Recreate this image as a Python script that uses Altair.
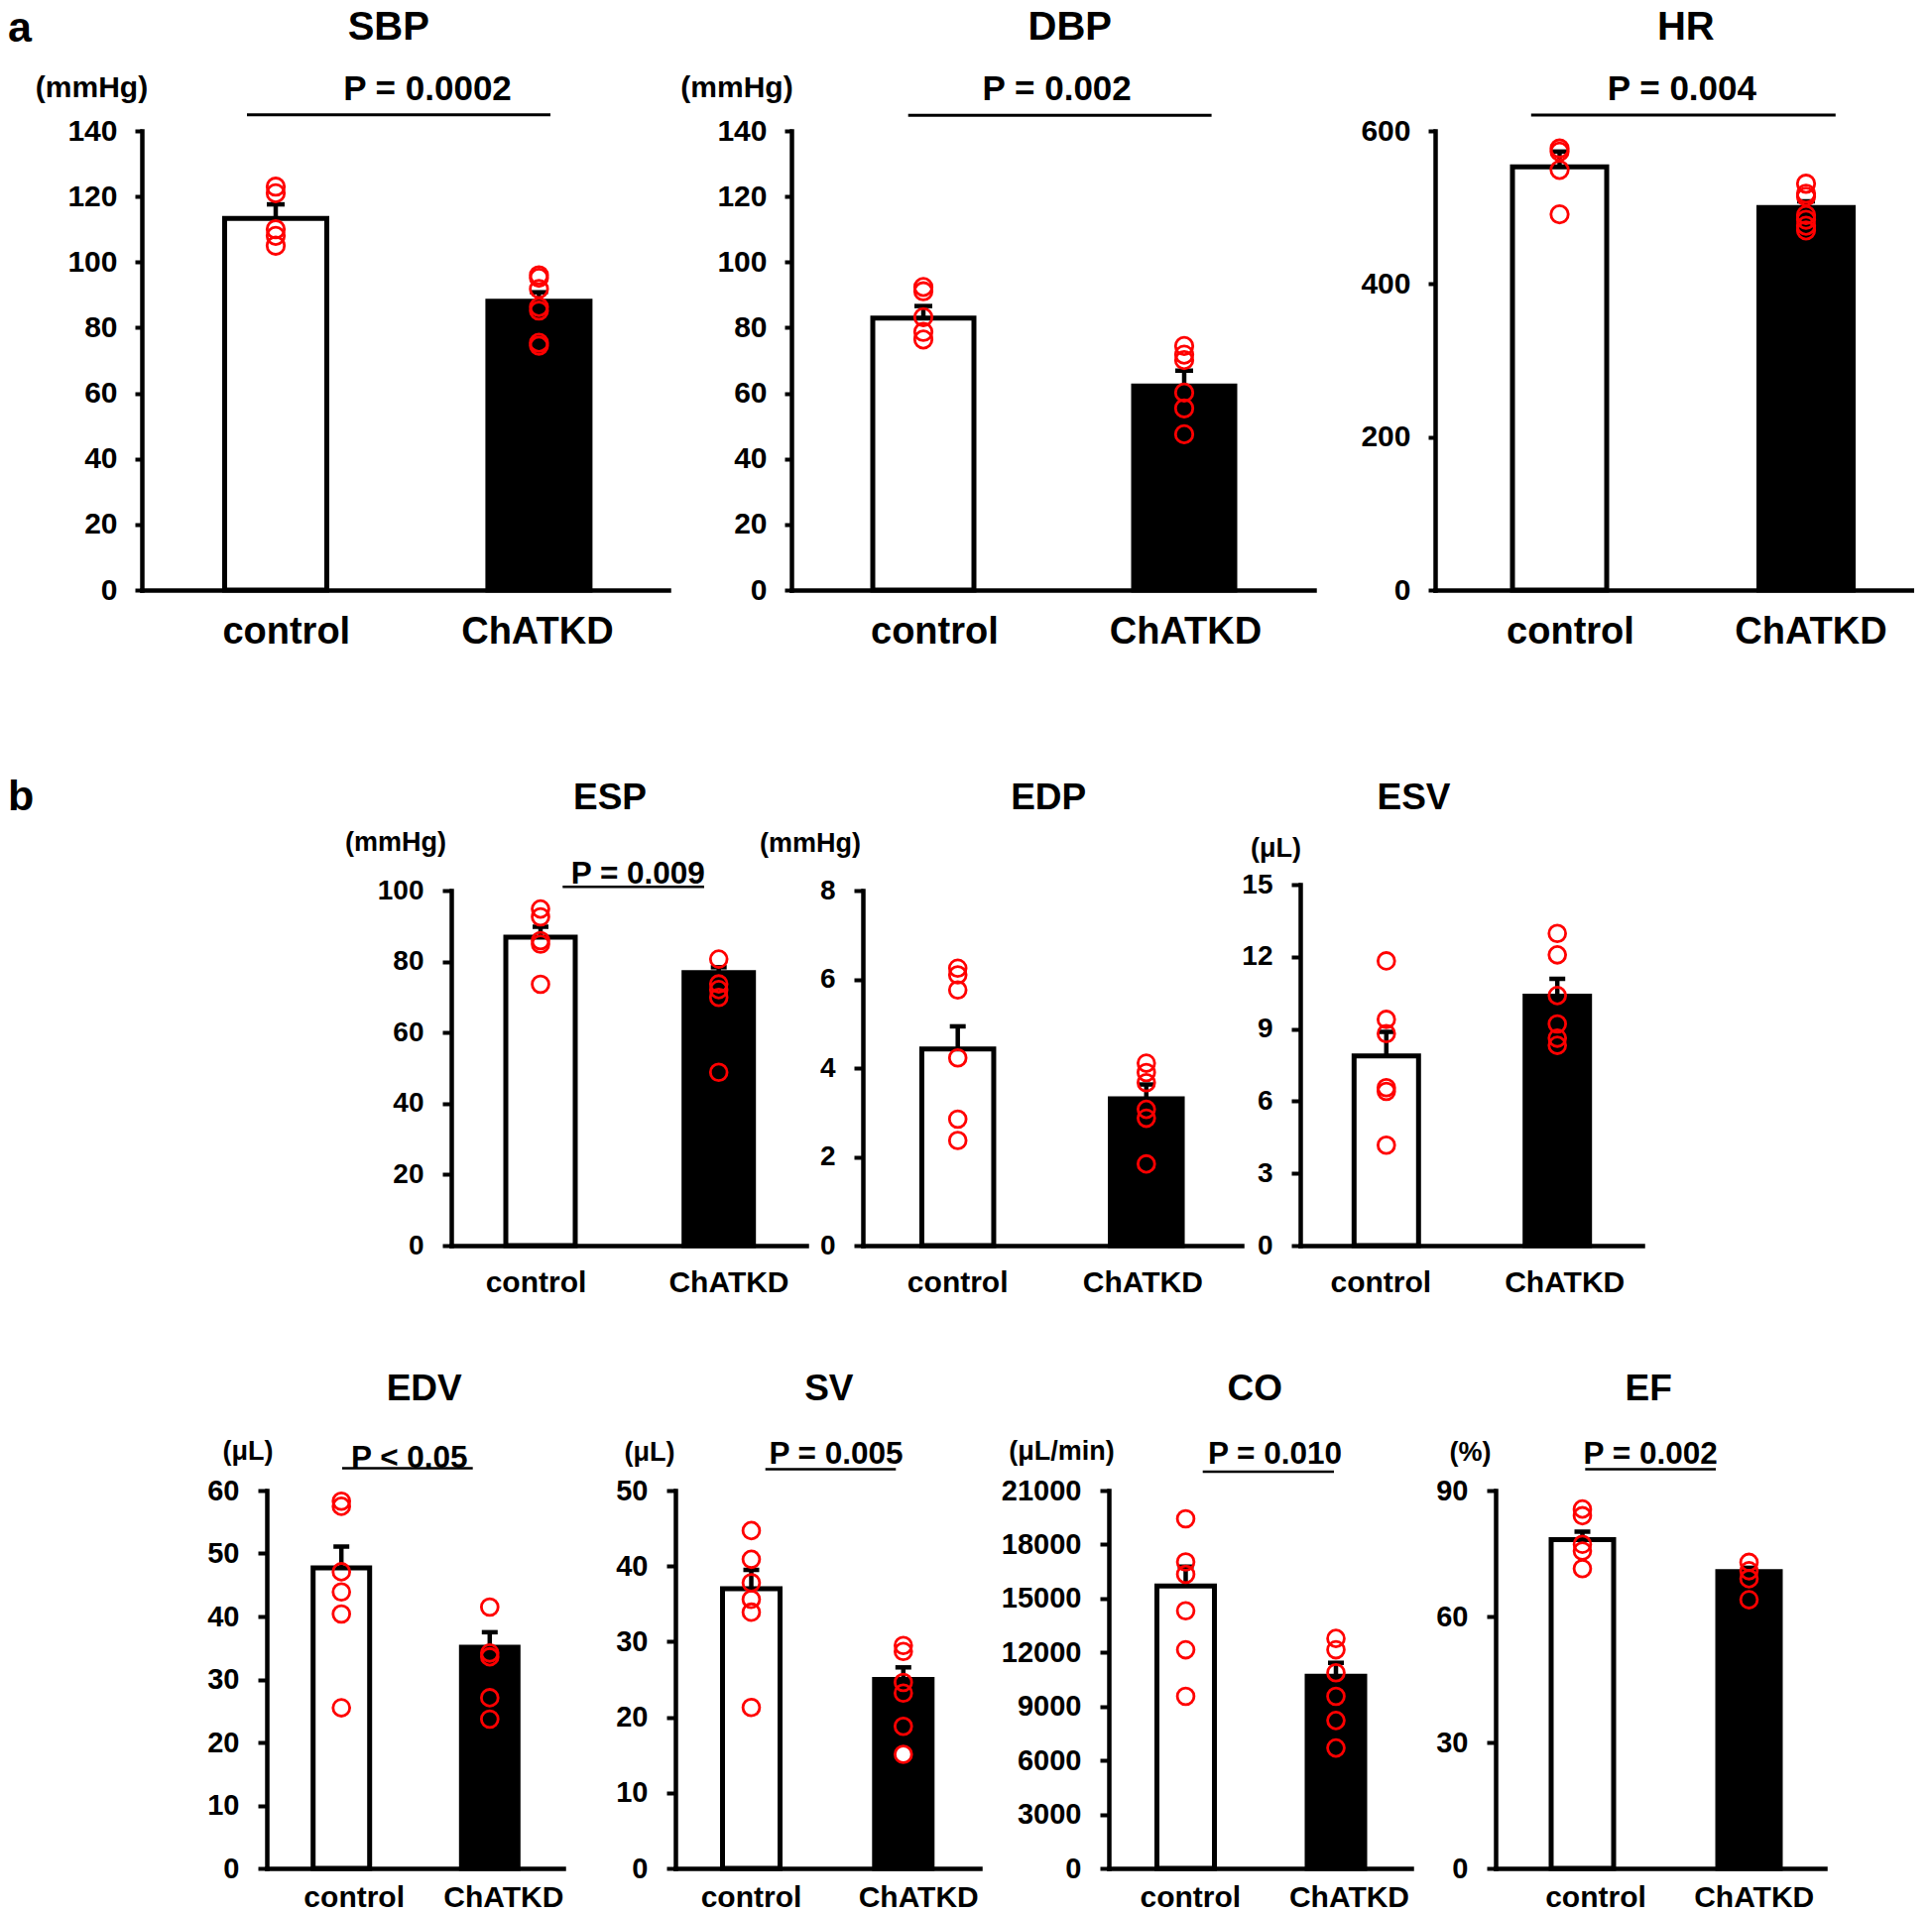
import altair as alt
import pandas as pd

GROUPS = ["control", "ChATKD"]
FONT = "Liberation Sans"
RED = "#ff0000"

# ---------------- data ----------------
SBP_MEAN = [113.3, 88.1]
SBP_SEM = [4.3, 2.7]
SBP_CTRL = [123.0, 121.0, 110.0, 108.0, 105.0]
SBP_KD = [96.0, 95.2, 91.8, 86.3, 85.2, 75.4, 74.5]

DBP_MEAN = [82.9, 62.2]
DBP_SEM = [3.7, 4.7]
DBP_CTRL = [92.4, 91.1, 83.2, 78.7, 76.4]
DBP_KD = [74.4, 71.8, 70.1, 60.2, 55.4, 47.5]

HR_MEAN = [553.0, 500.0]
HR_SEM = [20.0, 8.0]
HR_CTRL = [577.0, 573.0, 549.0, 491.0]
HR_KD = [531.0, 518.0, 514.0, 490.0, 484.0, 476.0, 470.0]

ESP_MEAN = [86.9, 76.9]
ESP_SEM = [2.9, 1.5]
ESP_CTRL = [94.8, 92.6, 85.9, 84.9, 73.6]
ESP_KD = [80.7, 73.7, 72.1, 69.9, 48.8]

EDP_MEAN = [4.43, 3.31]
EDP_SEM = [0.51, 0.32]
EDP_CTRL = [6.25, 6.10, 5.76, 4.23, 2.85, 2.37]
EDP_KD = [4.11, 3.90, 3.67, 3.07, 2.87, 1.84]

ESV_MEAN = [7.88, 10.36]
ESV_SEM = [1.00, 0.73]
ESV_CTRL = [11.83, 9.40, 8.81, 6.56, 6.41, 4.17]
ESV_KD = [12.97, 12.08, 10.39, 9.21, 8.62, 8.32]

EDV_MEAN = [47.7, 35.1]
EDV_SEM = [3.4, 2.4]
EDV_CTRL = [58.3, 57.5, 47.1, 43.9, 40.4, 25.5]
EDV_KD = [41.5, 34.2, 33.6, 27.1, 23.7]

SV_MEAN = [37.0, 25.0]
SV_SEM = [2.5, 1.6]
SV_CTRL = [44.7, 40.9, 37.8, 35.6, 33.9, 21.3]
SV_KD = [29.5, 28.7, 24.6, 23.2, 18.8, 15.1]
SV_KD_WHITE = [15.1]          # the one ChATKD circle drawn with a white fill

CO_MEAN = [15690, 10680]
CO_SEM = [1080, 745]
CO_CTRL = [19430, 17030, 16340, 14320, 12150, 9560]
CO_KD = [12780, 12150, 10870, 9560, 8220, 6690]

EF_MEAN = [78.3, 70.7]
EF_SEM = [1.9, 0.9]
EF_CTRL = [85.6, 84.0, 77.2, 75.6, 71.4]
EF_KD = [72.9, 70.9, 69.0, 64.0]

# ---------------- styles per row ----------------
ROW_A = dict(h=463, tick_fs=30, xlab_fs=38, xlab_pad=53, title_fs=40, p_fs=35,
             unit_fs=30, tick_size=7, lab_pad=18, pt_size=305, pt_sw=2.8, cap=18, pline_w=3)
ROW_B1 = dict(h=358, tick_fs=28, xlab_fs=30, xlab_pad=46, title_fs=37, p_fs=31.5,
              unit_fs=27, tick_size=9, lab_pad=19, pt_size=283, pt_sw=2.8, cap=16, pline_w=2.5)
ROW_B2 = dict(h=381, tick_fs=29, xlab_fs=30, xlab_pad=38.5, title_fs=37, p_fs=31.5,
              unit_fs=27, tick_size=9, lab_pad=19, pt_size=283, pt_sw=2.8, cap=16, pline_w=2.5)

BAR_SW = 5
USE_COND = True


def band_params(W, c1, step, vis, sw=BAR_SW):
    bw = vis - sw
    pi = 1 - bw / step
    left = c1 - bw / 2
    leftover = W - (step + bw)
    po = leftover / (2 * step)
    al = left / leftover
    return pi, po, al


def text_layer(text, x, y, size, align="center"):
    return alt.Chart(pd.DataFrame({"t": [text]})).mark_text(
        font=FONT, fontWeight="bold", fontSize=size, align=align,
        baseline="alphabetic", color="black"
    ).encode(text="t:N", x=alt.value(x), y=alt.value(y))


def hline(x1, x2, y, w):
    return alt.Chart(pd.DataFrame({"t": [0]})).mark_rule(
        color="black", strokeWidth=w
    ).encode(x=alt.value(x1), x2=alt.value(x2), y=alt.value(y))


def panel(title, unit, pval, mean, sem, ctrl, kd, ymax, ystep, L, S, extra=None,
          kd_white=None):
    summ = pd.DataFrame({"group": GROUPS, "v": mean,
                         "v2": [m + s for m, s in zip(mean, sem)]})
    pts = pd.DataFrame({"group": ["control"] * len(ctrl) + ["ChATKD"] * len(kd),
                        "v": list(ctrl) + list(kd)})
    pi, po, al = band_params(L["W"], L["c1"], L["step"], L["vis"])
    xscale = alt.Scale(domain=GROUPS, paddingInner=pi, paddingOuter=po, align=al)
    o1, o2 = L["loff"]
    if USE_COND:
        loff = {"condition": {"test": "datum.value === 'control'", "value": o1}, "value": o2}
    else:
        loff = (o1 + o2) / 2
    xaxis = alt.Axis(title=None, labelAngle=0, ticks=False, tickSize=0,
                     domainColor="black", domainWidth=4.5, domainCap="square",
                     labelFont=FONT, labelFontWeight="bold", labelFontSize=S["xlab_fs"],
                     labelColor="black", labelBaseline="alphabetic",
                     labelPadding=S["xlab_pad"], labelOverlap=False, labelOffset=loff)
    ticks = list(range(0, ymax + ystep, ystep))
    if L.get("ytop", 0) != 0:
        yscale = alt.Scale(domain=[0, ymax], nice=False, zero=True,
                           range=[S["h"], L["ytop"]])
    else:
        yscale = alt.Scale(domain=[0, ymax], nice=False, zero=True)
    yaxis = alt.Axis(title=None, values=ticks, format="d", grid=False,
                     domainColor="black", domainWidth=4.5, domainCap="square",
                     tickColor="black", tickWidth=4, tickSize=S["tick_size"],
                     labelFont=FONT, labelFontWeight="bold", labelFontSize=S["tick_fs"],
                     labelColor="black", labelPadding=S["lab_pad"], labelOverlap=False)
    X = alt.X("group:N", scale=xscale, axis=xaxis, sort=GROUPS)

    bars = alt.Chart(summ).mark_bar(stroke="black", strokeWidth=BAR_SW).encode(
        x=X,
        y=alt.Y("v:Q", scale=yscale, axis=yaxis),
        color=alt.Color("group:N", scale=alt.Scale(domain=GROUPS, range=["white", "black"]),
                        legend=None),
    )
    err = alt.Chart(summ).mark_rule(color="black", strokeWidth=4.5).encode(
        x=X, y=alt.Y("v:Q", scale=yscale, axis=yaxis), y2="v2:Q")
    cap = alt.Chart(summ).mark_tick(color="black", thickness=4.5, size=S["cap"],
                                    opacity=1).encode(
        x=X, y=alt.Y("v2:Q", scale=yscale, axis=yaxis))
    layers = [bars, err, cap]
    if kd_white:
        wdf = pd.DataFrame({"group": ["ChATKD"] * len(kd_white), "v": list(kd_white)})
        layers.append(alt.Chart(wdf).mark_point(shape="circle", filled=True, color="white",
                                                size=S["pt_size"], opacity=1).encode(
            x=X, y=alt.Y("v:Q", scale=yscale, axis=yaxis)))
    dots = alt.Chart(pts).mark_point(shape="circle", filled=False, color=RED,
                                     size=S["pt_size"], strokeWidth=S["pt_sw"],
                                     opacity=1).encode(
        x=X, y=alt.Y("v:Q", scale=yscale, axis=yaxis))
    layers += [dots, text_layer(title, L["tx"], L["ty"], S["title_fs"])]
    if unit:
        layers.append(text_layer(unit, L["ux"], L["uy"], S["unit_fs"]))
    if pval:
        layers.append(text_layer(pval, L["px"], L["py"], S["p_fs"]))
        layers.append(hline(L["lx1"], L["lx2"], L["ly"], S["pline_w"]))
    if extra:
        layers.extend(extra)
    return alt.layer(*layers).properties(width=L["W"], height=S["h"])


def spacer(w, h, frame=None):
    """Empty cell. `frame` = (x, ytop, ybottom) draws an invisible vertical rule
    that fixes the outer extent of the row for the vertical stacking."""
    base = alt.Chart(pd.DataFrame({"s": [0]})).mark_point(opacity=0, size=0).encode(
        x=alt.value(w / 2), y=alt.value(h / 2))
    if frame is None:
        return base.properties(width=w, height=h)
    fx, fy1, fy2 = frame
    rule = alt.Chart(pd.DataFrame({"s": [0]})).mark_rule(
        opacity=0, strokeWidth=1, color="white").encode(
        x=alt.value(fx), y=alt.value(fy1), y2=alt.value(fy2))
    return alt.layer(base, rule).properties(width=w, height=h)


# ---------------- layouts ----------------
L_SBP = dict(W=531, c1=135, step=265.4, vis=108, tx=248.8, ty=-92, ux=-50.5, uy=-34.4,
             px=288, py=-31.4, lx1=106, lx2=412, ly=-16.2, loff=(10.8, -1.5))
L_DBP = dict(W=527, c1=133, step=263, vis=107, tx=280.8, ty=-92, ux=-55, uy=-34.4,
             px=267.7, py=-31.4, lx1=117.7, lx2=423.6, ly=-15.8, loff=(11.4, 1.5))
L_HR = dict(W=483, c1=125.5, step=248.5, vis=100, tx=252.8, ty=-92,
            px=248.9, py=-31.4, lx1=96.8, lx2=403.8, ly=-16, loff=(11, 5))
L_ESP = dict(W=358, c1=90, step=179.7, vis=75, tx=160, ty=-81.6, ux=-56, uy=-40.5,
             px=188.3, py=-6.6, lx1=112.3, lx2=255, ly=-3.7, loff=(-4.5, 10.3))
L_EDP = dict(W=382, c1=95.7, step=190.1, vis=77.5, tx=187.2, ty=-81.6, ux=-53, uy=-38.7,
             loff=(0, -3.4))
L_ESV = dict(W=345, c1=86.8, step=172.4, vis=70, tx=114.5, ty=-81.6, ux=-24.5, uy=-34.4,
             ytop=-6, loff=(-5.5, 7.5))
L_EDV = dict(W=299, c1=75.2, step=149.6, vis=62, tx=158.7, ty=-91, ux=-19, uy=-31.4,
             px=143.8, py=-23.2, lx1=76, lx2=207.7, ly=-22.5, loff=(13, 14))
L_SV = dict(W=307, c1=76.5, step=153.3, vis=63, tx=154.8, ty=-91, ux=-26, uy=-29.6,
            px=162, py=-26.8, lx1=90.7, lx2=222.3, ly=-21.4, loff=(0, 15.4))
L_CO = dict(W=305, c1=77.5, step=151.5, vis=63, tx=147.3, ty=-91, ux=-47.5, uy=-31.4,
            px=167.5, py=-26.8, lx1=94.7, lx2=227, ly=-19, loff=(4.8, 13.5))
L_EF = dict(W=332, c1=87.5, step=168, vis=68, tx=154.2, ty=-91, ux=-25.5, uy=-29.6,
            px=156.2, py=-26.8, lx1=90.3, lx2=222, ly=-21.4, loff=(13.5, 5.2))


def build():
    sbp = panel("SBP", "(mmHg)", "P = 0.0002", SBP_MEAN, SBP_SEM, SBP_CTRL, SBP_KD, 140, 20,
                L_SBP, ROW_A, extra=[text_layer("a", -135, -90, 43, align="left")])
    dbp = panel("DBP", "(mmHg)", "P = 0.002", DBP_MEAN, DBP_SEM, DBP_CTRL, DBP_KD, 140, 20,
                L_DBP, ROW_A)
    hr = panel("HR", None, "P = 0.004", HR_MEAN, HR_SEM, HR_CTRL, HR_KD, 600, 200, L_HR, ROW_A)

    esp = panel("ESP", "(mmHg)", "P = 0.009", ESP_MEAN, ESP_SEM, ESP_CTRL, ESP_KD, 100, 20,
                L_ESP, ROW_B1, extra=[text_layer("b", -447, -80.6, 43, align="left")])
    edp = panel("EDP", "(mmHg)", None, EDP_MEAN, EDP_SEM, EDP_CTRL, EDP_KD, 8, 2, L_EDP, ROW_B1)
    esv = panel("ESV", "(μL)", None, ESV_MEAN, ESV_SEM, ESV_CTRL, ESV_KD, 15, 3, L_ESV, ROW_B1)

    edv = panel("EDV", "(μL)", "P < 0.05", EDV_MEAN, EDV_SEM, EDV_CTRL, EDV_KD, 60, 10,
                L_EDV, ROW_B2)
    sv = panel("SV", "(μL)", "P = 0.005", SV_MEAN, SV_SEM, SV_CTRL, SV_KD, 50, 10, L_SV, ROW_B2,
               kd_white=SV_KD_WHITE)
    co = panel("CO", "(μL/min)", "P = 0.010", CO_MEAN, CO_SEM, CO_CTRL, CO_KD, 21000, 3000,
               L_CO, ROW_B2)
    ef = panel("EF", "(%)", "P = 0.002", EF_MEAN, EF_SEM, EF_CTRL, EF_KD, 90, 30, L_EF, ROW_B2)

    hA, hB1, hB2 = ROW_A["h"], ROW_B1["h"], ROW_B2["h"]
    # vertical gaps between plot areas: 303 (a -> b upper) and 247 (b upper -> b lower)
    B_A, T_B1 = 70, 233
    B_B1, T_B2 = 60, 187
    FX = 0

    row_a = alt.hconcat(spacer(135, hA, frame=(FX, 0, hA + B_A)), sbp, spacer(124, hA), dbp,
                        spacer(122, hA), hr, spacing=0, bounds="flush")
    row_b1 = alt.hconcat(spacer(447, hB1, frame=(FX, -T_B1, hB1 + B_B1)), esp,
                         spacer(57, hB1), edp, spacer(59, hB1), esv, spacing=0, bounds="flush")
    row_b2 = alt.hconcat(spacer(261, hB2, frame=(FX, -T_B2, hB2)), edv, spacer(113, hB2), sv,
                         spacer(130, hB2), co, spacer(85, hB2), ef, spacing=0, bounds="flush")

    return alt.vconcat(row_a, row_b1, row_b2, spacing=0).properties(
        padding=0, background="white").configure_view(strokeWidth=0)


try:
    chart = build()
    chart.save("out.html", embed_options={"renderer": "svg", "actions": False})
except Exception:
    USE_COND = False
    chart = build()
    chart.save("out.html", embed_options={"renderer": "svg", "actions": False})
